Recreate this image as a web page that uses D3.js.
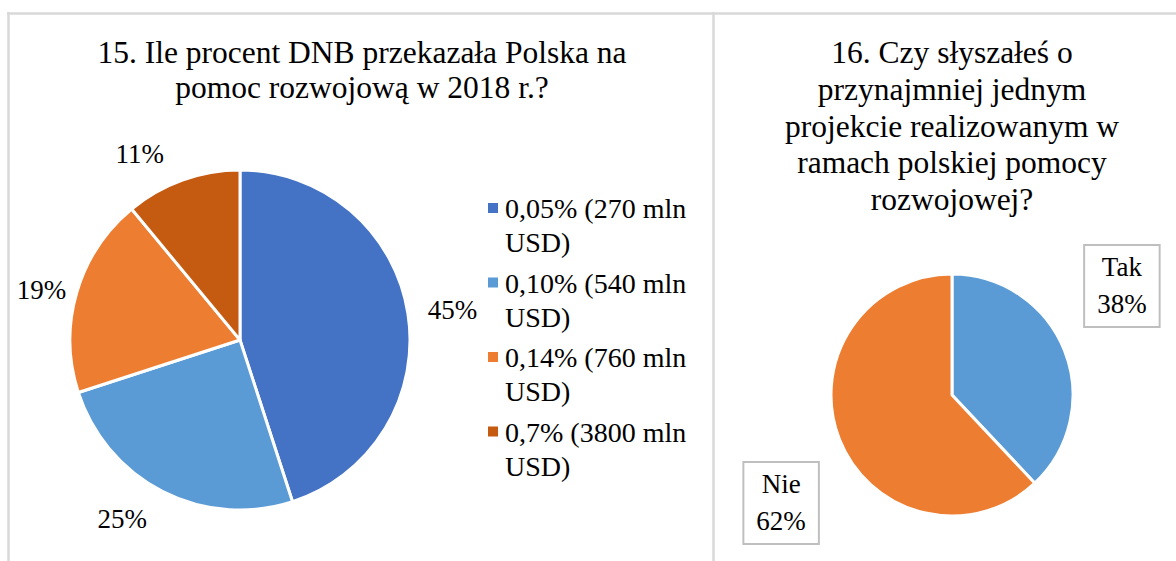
<!DOCTYPE html>
<html>
<head>
<meta charset="utf-8">
<script src="https://cdn.jsdelivr.net/npm/d3@7"></script>
<style>
  body { margin: 0; background: #fff; }
</style>
</head>
<body>
<div id="chart"></div>
<script>
// Question 15 data
const q15Title = ["15. Ile procent DNB przekazała Polska na", "pomoc rozwojową w 2018 r.?"];
const q15Categories = ["0,05% (270 mln USD)", "0,10% (540 mln USD)", "0,14% (760 mln USD)", "0,7% (3800 mln USD)"];
const q15Values = [45, 25, 19, 11];
const q15Colors = ["#4472c4", "#5b9bd5", "#ed7d31", "#c55a11"];

// Question 16 data
const q16Title = ["16. Czy słyszałeś o", "przynajmniej jednym", "projekcie realizowanym w", "ramach polskiej pomocy", "rozwojowej?"];
const q16Categories = ["Tak", "Nie"];
const q16Values = [38, 62];
const q16Colors = ["#5b9bd5", "#ed7d31"];

const width = 1176, height = 561;
const borderColor = "#d9d9d9";
const serif = '"Liberation Serif", "Times New Roman", serif';

const svg = d3.select("#chart").append("svg")
  .attr("width", width)
  .attr("height", height)
  .style("display", "block")
  .style("font-family", serif);

// panel frames
svg.append("line").attr("x1", 7).attr("x2", width).attr("y1", 13.5).attr("y2", 13.5)
  .attr("stroke", borderColor).attr("stroke-width", 2.5);
[8.5, 713.5].forEach(x => {
  svg.append("line").attr("x1", x).attr("x2", x).attr("y1", 12).attr("y2", height)
    .attr("stroke", borderColor).attr("stroke-width", 2.5);
});

function drawTitle(lines, cx, y0, lh) {
  svg.append("text")
    .attr("text-anchor", "middle")
    .style("font-family", serif)
    .style("font-size", "31.5px")
    .attr("fill", "#000")
    .selectAll("tspan")
    .data(lines)
    .join("tspan")
    .attr("x", cx)
    .attr("y", (d, i) => y0 + i * lh)
    .text(d => d);
}

// label position along the slice mid angle, plus a small nudge
function labelPos(d, cx, cy, r, nudge) {
  const a = (d.startAngle + d.endAngle) / 2;
  return [cx + r * Math.sin(a) + nudge[0], cy - r * Math.cos(a) + nudge[1]];
}

function drawPie(values, colors, cx, cy, r) {
  const pie = d3.pie().sort(null).value(d => d);
  const arc = d3.arc().innerRadius(0).outerRadius(r);
  const arcs = pie(values);
  svg.append("g")
    .attr("transform", `translate(${cx},${cy})`)
    .selectAll("path")
    .data(arcs)
    .join("path")
    .attr("d", arc)
    .attr("fill", (d, i) => colors[i])
    .attr("stroke", "#fff")
    .attr("stroke-width", 3)
    .attr("stroke-linejoin", "round");
  return arcs;
}

// ---- Chart 15 ----
drawTitle(q15Title, 362, 63, 35);
const arcs15 = drawPie(q15Values, q15Colors, 240, 340, 170);
const nudge15 = [[2, 3], [-21, -11], [6, 10], [-28, 14]];
svg.append("g").selectAll("text")
  .data(arcs15)
  .join("text")
  .attr("transform", (d, i) => `translate(${labelPos(d, 240, 340, 213, nudge15[i])})`)
  .attr("text-anchor", "middle")
  .attr("dy", "0.33em")
  .style("font-family", serif)
  .style("font-size", "27px")
  .text(d => d.data + "%");

// legend
const legend = svg.append("g");
const legendX = 488, legendY = 218, rowStep = 74.5, lineH = 34;
q15Categories.forEach((cat, i) => {
  const y = legendY + i * rowStep;
  legend.append("rect")
    .attr("x", legendX).attr("y", y - 15)
    .attr("width", 10).attr("height", 10)
    .attr("fill", q15Colors[i]);
  const t = legend.append("text")
    .style("font-family", serif)
    .style("font-size", "28px")
    .attr("fill", "#000");
  // wrap the label to the legend width
  const words = cat.split(" ");
  let line = [], lines = [];
  const probe = t.append("tspan");
  words.forEach(w => {
    probe.text([...line, w].join(" "));
    if (probe.node().getComputedTextLength() > 190 && line.length) {
      lines.push(line.join(" "));
      line = [w];
    } else {
      line.push(w);
    }
  });
  lines.push(line.join(" "));
  probe.remove();
  t.selectAll("tspan").data(lines).join("tspan")
    .attr("x", legendX + 17)
    .attr("y", (d, j) => y + j * lineH)
    .text(d => d);
});

// ---- Chart 16 ----
drawTitle(q16Title, 952, 63, 36.8);
const arcs16 = drawPie(q16Values, q16Colors, 952, 395, 121);
const nudge16 = [[-17, -35], [16, 34]];
arcs16.forEach((d, i) => {
  const [x, y] = labelPos(d, 952, 395, 201, nudge16[i]);
  const lines = [q16Categories[i], d.data + "%"];
  const lh = 37;
  const g = svg.append("g").attr("transform", `translate(${x},${y})`);
  const box = g.append("rect");
  const t = g.append("text")
    .attr("text-anchor", "middle")
    .style("font-family", serif)
    .style("font-size", "27px")
    .attr("fill", "#000");
  t.selectAll("tspan").data(lines).join("tspan")
    .attr("x", 0)
    .attr("y", (s, j) => (j - (lines.length - 1) / 2) * lh)
    .attr("dy", "0.33em")
    .text(s => s);
  const w = t.node().getBBox().width + 26;
  const h = lines.length * lh + 8;
  box.attr("x", -w / 2).attr("y", -h / 2)
    .attr("width", w).attr("height", h)
    .attr("fill", "#fff")
    .attr("stroke", "#bfbfbf")
    .attr("stroke-width", 2);
});
</script>
</body>
</html>
